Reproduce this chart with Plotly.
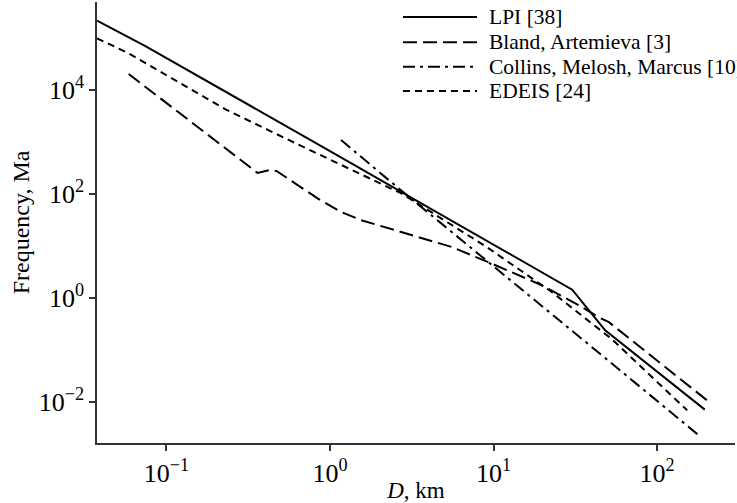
import plotly.graph_objects as go

# ---- data ----
lpi_d = [0.0376, 0.0743, 1.0, 10.0, 30.3, 48.2, 196]
lpi_f = [2.12e5, 6.92e4, 660, 10.5, 1.44, 0.239, 0.00714]

bland_d = [0.0587, 0.360, 0.425, 0.473, 0.840, 1.168, 1.55, 5.52, 9.72, 19.7, 33.2, 44.0, 50.8, 212]
bland_f = [20050, 253, 286, 273, 81.6, 45, 31.2, 9.57, 4.59, 1.75, 0.724, 0.425, 0.341, 0.00957]

collins_d = [1.168, 2.79, 46, 180]
collins_f = [1080, 109, 0.079, 0.00229]

edeis_d = [0.0376, 0.0587, 0.230, 0.618, 2.73, 9.06, 22.7, 53.0, 153]
edeis_f = [97300, 50100, 4200, 931, 102, 9.57, 1.30, 0.161, 0.00692]

series_names = ["LPI [38]", "Bland, Artemieva [3]", "Collins, Melosh, Marcus [10]", "EDEIS [24]"]

x_tickvals = [0.1, 1, 10, 100]
x_ticktext = ["10<sup>\u22121</sup>", "10<sup>0</sup>", "10<sup>1</sup>", "10<sup>2</sup>"]
y_tickvals = [0.01, 1, 100, 10000]
y_ticktext = ["10<sup>\u22122</sup>", "10<sup>0</sup>", "10<sup>2</sup>", "10<sup>4</sup>"]

FONT = "Liberation Serif"
dashes = ["solid", "14px,6px", "12px,5px,3px,5px", "7px,5px"]
data = [(lpi_d, lpi_f), (bland_d, bland_f), (collins_d, collins_f), (edeis_d, edeis_f)]

fig = go.Figure()
for name, (d, f), dash in zip(series_names, data, dashes):
    fig.add_trace(go.Scatter(x=d, y=f, mode="lines", name=name, showlegend=False,
                             line=dict(color="black", width=2, dash=dash)))

# custom legend (long sample lines as in the reference)
leg_y = [0.966, 0.909, 0.853, 0.798]
shapes = []
annotations = []
for name, dash, yy in zip(series_names, dashes, leg_y):
    shapes.append(dict(type="line", xref="paper", yref="paper", x0=0.4796, x1=0.5956,
                       y0=yy, y1=yy, line=dict(color="black", width=2, dash=dash)))
    annotations.append(dict(xref="paper", yref="paper", x=0.611, y=yy, text=name,
                            showarrow=False, xanchor="left", yanchor="middle",
                            font=dict(family=FONT, size=21.5, color="black")))

axis_common = dict(type="log", showline=True, linecolor="#333", linewidth=1.5,
                   ticks="outside", ticklen=6, tickcolor="#333", tickwidth=1.5,
                   showgrid=False, zeroline=False, mirror=False, automargin=False,
                   tickfont=dict(family=FONT, size=26, color="black"))

fig.update_layout(
    width=737, height=503,
    margin=dict(l=97, r=2, t=2, b=60),
    paper_bgcolor="white", plot_bgcolor="white",
    font=dict(family=FONT, color="black"),
    shapes=shapes, annotations=annotations,
    xaxis=dict(axis_common, range=[-1.425, 2.477], tickvals=x_tickvals, ticktext=x_ticktext,
               title=dict(text="<i>D</i>, km", font=dict(family=FONT, size=23, color="black"), standoff=0)),
    yaxis=dict(axis_common, range=[-2.788, 5.686], tickvals=y_tickvals, ticktext=y_ticktext,
               title=dict(text="Frequency, Ma", font=dict(family=FONT, size=24, color="black"), standoff=2)),
)

fig.write_html("out.html", config={"displayModeBar": False},
               post_script="document.body.style.margin='0';document.body.style.overflow='hidden';")
